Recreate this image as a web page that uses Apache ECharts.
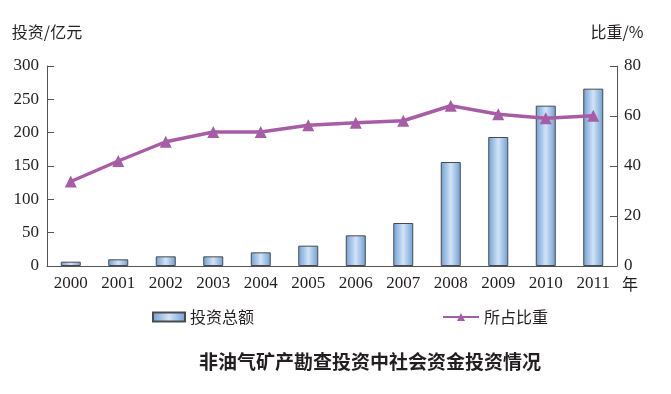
<!DOCTYPE html>
<html>
<head>
<meta charset="utf-8">
<script src="https://cdn.jsdelivr.net/npm/echarts@6/dist/echarts.min.js"></script>
<style>html,body{margin:0;padding:0;background:#fff;}#c{width:671px;height:394px;}</style>
</head>
<body>
<div id="c"></div>
<script>
const years = ['2000','2001','2002','2003','2004','2005','2006','2007','2008','2009','2010','2011'];
const investment = [6.5, 10, 14.5, 14.5, 20.5, 30.5, 46, 64.5, 156, 193.5, 240.5, 266];
const share = [33.8, 42, 49.7, 53.6, 53.6, 56.3, 57.3, 58.1, 64.1, 60.7, 59.1, 60.1];
const leftTicks = {min: 0, max: 300, interval: 50};
const rightTicks = {min: 0, max: 80, interval: 20};

const serif = '"Liberation Serif", "DejaVu Serif", serif';
const cjk = '"Noto Sans CJK SC", sans-serif';
const txt = '#231f20';
const axisCol = '#555';

const chart = echarts.init(document.getElementById('c'), null, {renderer: 'canvas'});
chart.setOption({
  animation: false,
  backgroundColor: '#fff',
  grid: {left: 47, right: 54, top: 66, bottom: 128},
  legend: [
    {data: [{name: '投资总额', icon: 'rect'}], left: 147, top: 304, itemWidth: 32, itemHeight: 9,
     textStyle: {fontFamily: cjk, fontSize: 16, color: txt}, itemGap: 6},
    {data: ['所占比重'], left: 437, top: 304, itemWidth: 36, itemHeight: 10,
     textStyle: {fontFamily: cjk, fontSize: 16, color: txt}}
  ],
  title: {text: '非油气矿产勘查投资中社会资金投资情况', left: 194, top: 347,
    textStyle: {fontFamily: cjk, fontSize: 19, fontWeight: 'bold', color: txt}},
  graphic: [
    {type: 'text', left: 622, top: 276, style: {text: '年', font: '16px ' + cjk, fill: txt}}
  ],
  xAxis: {
    type: 'category', data: years,
    axisLine: {lineStyle: {color: axisCol, width: 1}},
    axisTick: {inside: true, length: 5, lineStyle: {color: axisCol}},
    axisLabel: {fontFamily: serif, fontSize: 17, color: txt, margin: 9}
  },
  yAxis: [
    {type: 'value', min: leftTicks.min, max: leftTicks.max, interval: leftTicks.interval,
     name: '投资/亿元', nameGap: 26,
     nameTextStyle: {fontFamily: cjk, fontSize: 16, color: txt},
     axisLine: {show: true, lineStyle: {color: axisCol}},
     axisTick: {show: true, inside: true, length: 7, lineStyle: {color: axisCol}},
     axisLabel: {fontFamily: serif, fontSize: 17, color: txt, margin: 8},
     splitLine: {show: false}},
    {type: 'value', min: rightTicks.min, max: rightTicks.max, interval: rightTicks.interval,
     name: '比重/%', nameGap: 26,
     nameTextStyle: {fontFamily: cjk, fontSize: 16, color: txt},
     axisLine: {show: true, lineStyle: {color: axisCol}},
     axisTick: {show: true, inside: true, length: 7, lineStyle: {color: axisCol}},
     axisLabel: {fontFamily: serif, fontSize: 17, color: txt, margin: 7},
     splitLine: {show: false}}
  ],
  series: [
    {name: '投资总额', type: 'bar', data: investment, barWidth: 20, yAxisIndex: 0,
     itemStyle: {
       color: new echarts.graphic.LinearGradient(0, 0, 1, 0, [
         {offset: 0, color: '#6d9fd6'}, {offset: 0.5, color: '#d3e3f5'}, {offset: 1, color: '#6d9fd6'}
       ]),
       borderColor: '#4a4a4a', borderWidth: 1
     }},
    {name: '所占比重', type: 'line', data: share, yAxisIndex: 1,
     symbol: 'triangle', symbolSize: 12,
     lineStyle: {color: '#a75ca6', width: 3.5},
     itemStyle: {color: '#a75ca6'}}
  ]
});
</script>
</body>
</html>
